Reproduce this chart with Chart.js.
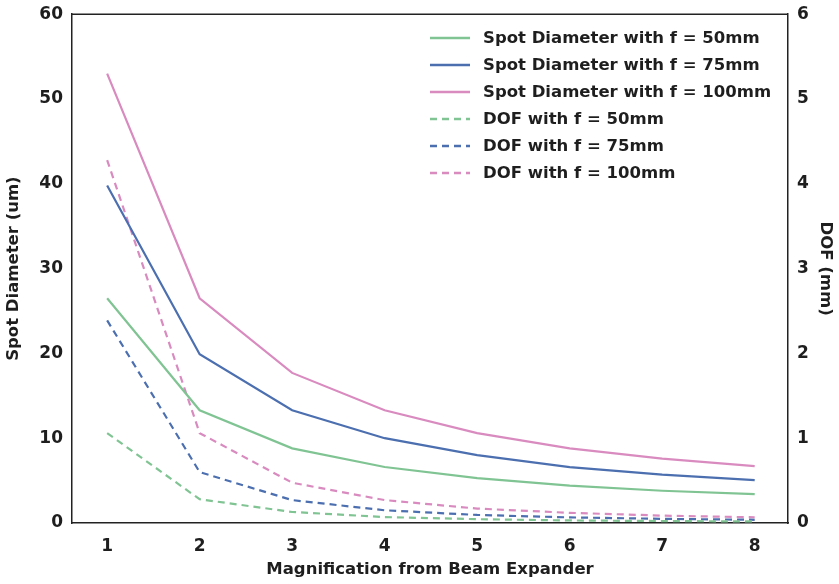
<!DOCTYPE html>
<html>
<head>
<meta charset="utf-8">
<script src="https://cdn.jsdelivr.net/npm/chart.js@4/dist/chart.umd.min.js"></script>
<style>
  html, body { margin: 0; padding: 0; background: #fff; }
  #wrap { width: 839px; height: 584px; }
</style>
</head>
<body>
<div id="wrap"><canvas id="chart" width="839" height="584"></canvas></div>
<script>
// magnification values
var magnification = [1, 2, 3, 4, 5, 6, 7, 8];

// spot diameter (um), left axis
var spot50 = [26.5, 13.3, 8.8, 6.6, 5.3, 4.4, 3.8, 3.4];
var spot75 = [39.8, 19.9, 13.3, 10.0, 8.0, 6.6, 5.7, 5.05];
var spot100 = [53.0, 26.5, 17.7, 13.3, 10.6, 8.8, 7.6, 6.7];

// depth of field (mm), right axis
var dof50 = [1.06, 0.28, 0.13, 0.07, 0.045, 0.03, 0.023, 0.018];
var dof75 = [2.39, 0.60, 0.27, 0.15, 0.095, 0.066, 0.049, 0.038];
var dof100 = [4.28, 1.06, 0.475, 0.27, 0.17, 0.12, 0.087, 0.067];

var leftTicks = [0, 10, 20, 30, 40, 50, 60];
var rightTicks = [0, 1, 2, 3, 4, 5, 6];

var GREEN = '#80c493';
var BLUE = '#4c6fb0';
var PINK = '#d98bc0';
var FONT = '"DejaVu Sans", sans-serif';
var TEXT = '#1e1e1e';

function toPoints(ys) {
    return magnification.map(function(x, i) { return {x: x, y: ys[i]}; });
}

function makeSet(label, ys, color, axis, dashed) {
    return {
        label: label,
        data: toPoints(ys),
        borderColor: color,
        backgroundColor: color,
        borderWidth: 2.2,
        borderDash: dashed ? [7, 5] : [],
        pointRadius: 0,
        tension: 0,
        fill: false,
        yAxisID: axis
    };
}

// legend drawn inside the plot, top right
var insideLegend = {
    id: 'insideLegend',
    afterDatasetsDraw: function(chart) {
        var ctx = chart.ctx;
        var sets = chart.data.datasets;
        ctx.save();
        ctx.font = 'bold 16.5px ' + FONT;
        ctx.textBaseline = 'middle';
        for (var i = 0; i < sets.length; i++) {
            var y = 38 + i * 27;
            ctx.strokeStyle = sets[i].borderColor;
            ctx.lineWidth = 2.6;
            ctx.setLineDash(sets[i].borderDash);
            ctx.beginPath();
            ctx.moveTo(430, y);
            ctx.lineTo(470, y);
            ctx.stroke();
            ctx.setLineDash([]);
            ctx.fillStyle = TEXT;
            ctx.fillText(sets[i].label, 483, y + 1);
        }
        ctx.restore();
    }
};

// top spine of the frame
var topSpine = {
    id: 'topSpine',
    afterDraw: function(chart) {
        var a = chart.chartArea;
        var ctx = chart.ctx;
        ctx.save();
        ctx.strokeStyle = '#222';
        ctx.lineWidth = 1.5;
        ctx.beginPath();
        ctx.moveTo(a.left, a.top);
        ctx.lineTo(a.right, a.top);
        ctx.stroke();
        ctx.restore();
    }
};

var tickFont = { family: FONT, size: 17, weight: 'bold' };
var titleFont = { family: FONT, size: 16.5, weight: 'bold' };

new Chart(document.getElementById('chart').getContext('2d'), {
    type: 'line',
    data: {
        datasets: [
            makeSet('Spot Diameter with f = 50mm', spot50, GREEN, 'y', false),
            makeSet('Spot Diameter with f = 75mm', spot75, BLUE, 'y', false),
            makeSet('Spot Diameter with f = 100mm', spot100, PINK, 'y', false),
            makeSet('DOF with f = 50mm', dof50, GREEN, 'y2', true),
            makeSet('DOF with f = 75mm', dof75, BLUE, 'y2', true),
            makeSet('DOF with f = 100mm', dof100, PINK, 'y2', true)
        ]
    },
    options: {
        responsive: false,
        animation: false,
        layout: { padding: { top: 14, left: 0, right: 0, bottom: 0 } },
        plugins: {
            legend: { display: false },
            tooltip: { enabled: false }
        },
        scales: {
            x: {
                type: 'linear',
                min: 0.62,
                max: 8.36,
                afterBuildTicks: function(axis) {
                    axis.ticks = magnification.map(function(v) { return {value: v}; });
                },
                grid: { display: false, drawTicks: true, tickLength: 5, tickColor: '#222' },
                border: { color: '#222', width: 1.5 },
                ticks: { color: TEXT, font: tickFont, padding: 8, maxRotation: 0 },
                title: { display: true, text: 'Magnification from Beam Expander', color: TEXT, font: titleFont, padding: { top: 0 } },
                afterFit: function(axis) { axis.height = 61; }
            },
            y: {
                position: 'left',
                min: 0,
                max: 60,
                afterBuildTicks: function(axis) {
                    axis.ticks = leftTicks.map(function(v) { return {value: v}; });
                },
                grid: { display: false, drawTicks: true, tickLength: 5, tickColor: '#222' },
                border: { color: '#222', width: 1.5 },
                ticks: { color: TEXT, font: tickFont, padding: 4 },
                title: { display: true, text: 'Spot Diameter (um)', color: TEXT, font: titleFont, padding: { bottom: 4 } },
                afterFit: function(axis) { axis.width = 72; }
            },
            y2: {
                position: 'right',
                min: 0,
                max: 6,
                afterBuildTicks: function(axis) {
                    axis.ticks = rightTicks.map(function(v) { return {value: v}; });
                },
                grid: { display: false, drawTicks: true, tickLength: 5, tickColor: '#222' },
                border: { color: '#222', width: 1.5 },
                ticks: { color: TEXT, font: tickFont, padding: 4 },
                title: { display: true, text: 'DOF (mm)', color: TEXT, font: titleFont, padding: { top: 4 } },
                afterFit: function(axis) { axis.width = 51; }
            }
        }
    },
    plugins: [insideLegend, topSpine]
});
</script>
</body>
</html>
